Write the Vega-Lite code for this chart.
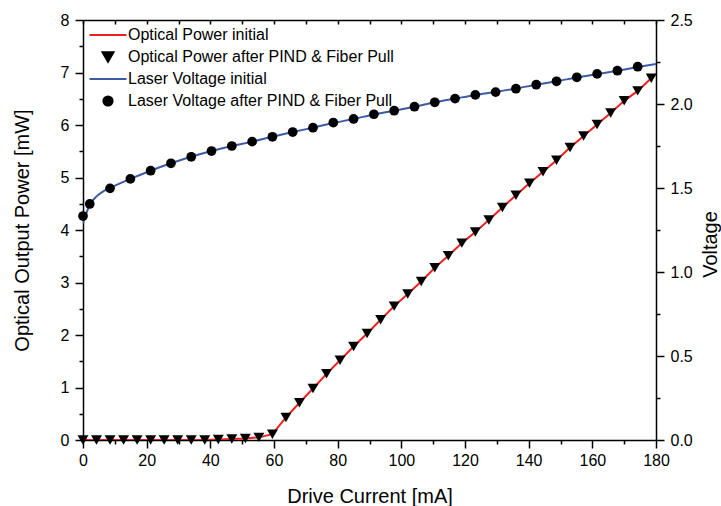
{
  "$schema": "https://vega.github.io/schema/vega-lite/v6.json",
  "width": 573,
  "height": 420,
  "autosize": {"type": "none"},
  "padding": {"left": 83, "top": 20, "right": 65, "bottom": 66},
  "background": "white",
  "config": {
    "font": "Liberation Sans",
    "view": {"stroke": null},
    "axis": {"grid": false, "domainColor": "black", "tickColor": "black", "labelColor": "black", "titleColor": "black", "domainWidth": 1.5, "tickWidth": 1.5, "labelFontSize": 16, "titleFontSize": 20, "titleFontWeight": "normal", "labelFont": "Liberation Sans", "titleFont": "Liberation Sans"}
  },
  "datasets": {
    "optInitial": [
      {"current": 0, "power": 0, "series": "Optical Power initial"},
      {"current": 4.25, "power": 0, "series": "Optical Power initial"},
      {"current": 8.5, "power": 0, "series": "Optical Power initial"},
      {"current": 12.75, "power": 0, "series": "Optical Power initial"},
      {"current": 17, "power": 0, "series": "Optical Power initial"},
      {"current": 21.25, "power": 0, "series": "Optical Power initial"},
      {"current": 25.5, "power": 0, "series": "Optical Power initial"},
      {"current": 29.75, "power": 0, "series": "Optical Power initial"},
      {"current": 34, "power": 0, "series": "Optical Power initial"},
      {"current": 38.25, "power": 0, "series": "Optical Power initial"},
      {"current": 42.5, "power": 0.01, "series": "Optical Power initial"},
      {"current": 46.75, "power": 0.02, "series": "Optical Power initial"},
      {"current": 51, "power": 0.03, "series": "Optical Power initial"},
      {"current": 55.25, "power": 0.05, "series": "Optical Power initial"},
      {"current": 59.5, "power": 0.11, "series": "Optical Power initial"},
      {"current": 63.75, "power": 0.43, "series": "Optical Power initial"},
      {"current": 68, "power": 0.71, "series": "Optical Power initial"},
      {"current": 72.25, "power": 0.98, "series": "Optical Power initial"},
      {"current": 76.5, "power": 1.26, "series": "Optical Power initial"},
      {"current": 80.75, "power": 1.52, "series": "Optical Power initial"},
      {"current": 85, "power": 1.78, "series": "Optical Power initial"},
      {"current": 89.25, "power": 2.03, "series": "Optical Power initial"},
      {"current": 93.5, "power": 2.29, "series": "Optical Power initial"},
      {"current": 97.75, "power": 2.55, "series": "Optical Power initial"},
      {"current": 102, "power": 2.78, "series": "Optical Power initial"},
      {"current": 106.25, "power": 3.02, "series": "Optical Power initial"},
      {"current": 110.5, "power": 3.28, "series": "Optical Power initial"},
      {"current": 114.75, "power": 3.51, "series": "Optical Power initial"},
      {"current": 119, "power": 3.75, "series": "Optical Power initial"},
      {"current": 123.25, "power": 3.96, "series": "Optical Power initial"},
      {"current": 127.5, "power": 4.19, "series": "Optical Power initial"},
      {"current": 131.75, "power": 4.43, "series": "Optical Power initial"},
      {"current": 136, "power": 4.66, "series": "Optical Power initial"},
      {"current": 140.25, "power": 4.89, "series": "Optical Power initial"},
      {"current": 144.5, "power": 5.11, "series": "Optical Power initial"},
      {"current": 148.75, "power": 5.33, "series": "Optical Power initial"},
      {"current": 153, "power": 5.57, "series": "Optical Power initial"},
      {"current": 157.25, "power": 5.79, "series": "Optical Power initial"},
      {"current": 161.5, "power": 6.01, "series": "Optical Power initial"},
      {"current": 165.75, "power": 6.23, "series": "Optical Power initial"},
      {"current": 170, "power": 6.46, "series": "Optical Power initial"},
      {"current": 174.25, "power": 6.65, "series": "Optical Power initial"},
      {"current": 178.5, "power": 6.89, "series": "Optical Power initial"},
      {"current": 180, "power": 6.97, "series": "Optical Power initial"}
    ],
    "optAfter": [
      {"current": 0, "power": 0},
      {"current": 4.25, "power": 0},
      {"current": 8.5, "power": 0},
      {"current": 12.75, "power": 0},
      {"current": 17, "power": 0},
      {"current": 21.25, "power": 0},
      {"current": 25.5, "power": 0},
      {"current": 29.75, "power": 0},
      {"current": 34, "power": 0},
      {"current": 38.25, "power": 0},
      {"current": 42.5, "power": 0.01},
      {"current": 46.75, "power": 0.02},
      {"current": 51, "power": 0.03},
      {"current": 55.25, "power": 0.05},
      {"current": 59.5, "power": 0.11},
      {"current": 63.75, "power": 0.43},
      {"current": 68, "power": 0.71},
      {"current": 72.25, "power": 0.98},
      {"current": 76.5, "power": 1.26},
      {"current": 80.75, "power": 1.52},
      {"current": 85, "power": 1.78},
      {"current": 89.25, "power": 2.03},
      {"current": 93.5, "power": 2.29},
      {"current": 97.75, "power": 2.55},
      {"current": 102, "power": 2.78},
      {"current": 106.25, "power": 3.02},
      {"current": 110.5, "power": 3.28},
      {"current": 114.75, "power": 3.51},
      {"current": 119, "power": 3.75},
      {"current": 123.25, "power": 3.96},
      {"current": 127.5, "power": 4.19},
      {"current": 131.75, "power": 4.43},
      {"current": 136, "power": 4.66},
      {"current": 140.25, "power": 4.89},
      {"current": 144.5, "power": 5.11},
      {"current": 148.75, "power": 5.33},
      {"current": 153, "power": 5.57},
      {"current": 157.25, "power": 5.79},
      {"current": 161.5, "power": 6.01},
      {"current": 165.75, "power": 6.23},
      {"current": 170, "power": 6.46},
      {"current": 174.25, "power": 6.65},
      {"current": 178.5, "power": 6.89}
    ],
    "voltInitial": [
      {"current": 0, "voltage": 1.29},
      {"current": 2.125, "voltage": 1.40},
      {"current": 4.25, "voltage": 1.45},
      {"current": 6.375, "voltage": 1.48},
      {"current": 8.5, "voltage": 1.50},
      {"current": 14.875, "voltage": 1.554},
      {"current": 21.25, "voltage": 1.603},
      {"current": 27.625, "voltage": 1.647},
      {"current": 34, "voltage": 1.686},
      {"current": 40.375, "voltage": 1.72},
      {"current": 46.75, "voltage": 1.75},
      {"current": 53.125, "voltage": 1.776},
      {"current": 59.5, "voltage": 1.805},
      {"current": 65.875, "voltage": 1.833},
      {"current": 72.25, "voltage": 1.859},
      {"current": 78.625, "voltage": 1.887},
      {"current": 85, "voltage": 1.911},
      {"current": 91.375, "voltage": 1.938},
      {"current": 97.75, "voltage": 1.96},
      {"current": 104.125, "voltage": 1.984},
      {"current": 110.5, "voltage": 2.01},
      {"current": 116.875, "voltage": 2.032},
      {"current": 123.25, "voltage": 2.054},
      {"current": 129.625, "voltage": 2.072},
      {"current": 136, "voltage": 2.092},
      {"current": 142.375, "voltage": 2.115},
      {"current": 148.75, "voltage": 2.135},
      {"current": 155.125, "voltage": 2.158},
      {"current": 161.5, "voltage": 2.178},
      {"current": 167.875, "voltage": 2.198},
      {"current": 174.25, "voltage": 2.22},
      {"current": 180, "voltage": 2.238}
    ],
    "voltAfter": [
      {"current": 0, "voltage": 1.333},
      {"current": 2.125, "voltage": 1.405},
      {"current": 8.5, "voltage": 1.498},
      {"current": 14.875, "voltage": 1.554},
      {"current": 21.25, "voltage": 1.603},
      {"current": 27.625, "voltage": 1.647},
      {"current": 34, "voltage": 1.686},
      {"current": 40.375, "voltage": 1.72},
      {"current": 46.75, "voltage": 1.75},
      {"current": 53.125, "voltage": 1.776},
      {"current": 59.5, "voltage": 1.805},
      {"current": 65.875, "voltage": 1.833},
      {"current": 72.25, "voltage": 1.859},
      {"current": 78.625, "voltage": 1.889},
      {"current": 85, "voltage": 1.911},
      {"current": 91.375, "voltage": 1.939},
      {"current": 97.75, "voltage": 1.96},
      {"current": 104.125, "voltage": 1.984},
      {"current": 110.5, "voltage": 2.01},
      {"current": 116.875, "voltage": 2.032},
      {"current": 123.25, "voltage": 2.054},
      {"current": 129.625, "voltage": 2.071},
      {"current": 136, "voltage": 2.091},
      {"current": 142.375, "voltage": 2.115},
      {"current": 148.75, "voltage": 2.135},
      {"current": 155.125, "voltage": 2.159},
      {"current": 161.5, "voltage": 2.179},
      {"current": 167.875, "voltage": 2.198},
      {"current": 174.25, "voltage": 2.222}
    ]
  },
  "layer": [
    {
      "data": {"name": "optInitial"},
      "mark": {"type": "line", "strokeWidth": 2, "clip": true},
      "encoding": {
        "x": {"field": "current", "type": "quantitative", "scale": {"domain": [0, 180], "nice": false, "zero": false},
          "axis": {"orient": "bottom", "values": [0, 20, 40, 60, 80, 100, 120, 140, 160, 180], "tickSize": 8, "labelPadding": 4, "title": "Drive Current [mA]", "titleY": 62, "titleBaseline": "alphabetic", "labelFlush": false}},
        "y": {"field": "power", "type": "quantitative", "scale": {"domain": [0, 8], "nice": false, "zero": false},
          "axis": {"orient": "left", "values": [0, 1, 2, 3, 4, 5, 6, 7, 8], "tickSize": 8, "labelPadding": 6, "title": "Optical Output Power [mW]", "titleAngle": -90, "titleX": -55, "titleBaseline": "alphabetic", "labelFlush": false}},
        "color": {"field": "series", "type": "nominal",
          "scale": {"domain": ["Optical Power initial", "Optical Power after PIND & Fiber Pull", "Laser Voltage initial", "Laser Voltage after PIND & Fiber Pull"], "range": ["#f02020", "black", "#3b5ba5", "black"]},
          "legend": {
            "orient": "none", "legendX": 17, "legendY": 7, "title": null, "padding": 0,
            "labelFontSize": 16, "labelFont": "Liberation Sans", "labelColor": "black", "labelLimit": 400,
            "rowPadding": 5, "labelOffset": 12, "symbolSize": 100,
            "encode": {
              "symbols": {
                "update": {
                  "shape": {"signal": "indexof(datum.value, 'initial') >= 0 ? 'M-3.7,0L3.7,0' : (indexof(datum.value, 'Optical') >= 0 ? 'triangle-down' : 'circle')"},
                  "fill": {"signal": "indexof(datum.value, 'initial') >= 0 ? 'transparent' : 'black'"},
                  "stroke": {"signal": "datum.value == 'Optical Power initial' ? '#f02020' : (datum.value == 'Laser Voltage initial' ? '#3b5ba5' : 'transparent')"},
                  "strokeWidth": {"value": 2},
                  "size": {"signal": "datum.value == 'Optical Power after PIND & Fiber Pull' ? 120 : (datum.value == 'Laser Voltage after PIND & Fiber Pull' ? 85 : 100)"},
                  "opacity": {"value": 1}
                }
              }
            }
          }
        }
      }
    },
    {
      "data": {"name": "voltInitial"},
      "mark": {"type": "line", "strokeWidth": 2, "color": "#3b5ba5", "interpolate": "monotone", "clip": true},
      "encoding": {
        "x": {"field": "current", "type": "quantitative",
          "axis": {"orient": "top", "values": [0, 10, 20, 30, 40, 50, 60, 70, 80, 90, 100, 110, 120, 130, 140, 150, 160, 170, 180], "tickSize": -4, "labels": false, "title": null}},
        "y": {"field": "voltage", "type": "quantitative", "scale": {"domain": [0, 2.5], "nice": false, "zero": false},
          "axis": {"orient": "right", "values": [0, 0.5, 1, 1.5, 2, 2.5], "format": ".1f", "tickSize": 8, "labelPadding": 6, "title": "Voltage", "titleAngle": -90, "titleX": 60, "titleY": 224, "titleBaseline": "alphabetic", "labelFlush": false}}
      }
    },
    {
      "data": {"name": "optAfter"},
      "mark": {"type": "point", "shape": "triangle-down", "filled": true, "color": "black", "size": 120, "opacity": 1},
      "encoding": {
        "x": {"field": "current", "type": "quantitative",
          "axis": {"orient": "bottom", "values": [10, 30, 50, 70, 90, 110, 130, 150, 170], "tickSize": 4, "labels": false, "domain": false, "title": null}},
        "y": {"field": "power", "type": "quantitative", "scale": {"domain": [0, 8], "nice": false, "zero": false},
          "axis": {"orient": "left", "values": [0.5, 1.5, 2.5, 3.5, 4.5, 5.5, 6.5, 7.5], "tickSize": 4, "labels": false, "domain": false, "title": null}}
      }
    },
    {
      "data": {"name": "voltAfter"},
      "mark": {"type": "point", "shape": "circle", "filled": true, "color": "black", "size": 95, "opacity": 1},
      "encoding": {
        "x": {"field": "current", "type": "quantitative", "axis": null},
        "y": {"field": "voltage", "type": "quantitative", "scale": {"domain": [0, 2.5], "nice": false, "zero": false},
          "axis": {"orient": "right", "values": [0.25, 0.75, 1.25, 1.75, 2.25], "tickSize": 4, "labels": false, "domain": false, "title": null}}
      }
    }
  ],
  "resolve": {"scale": {"y": "independent"}, "axis": {"x": "independent", "y": "independent"}}
}
